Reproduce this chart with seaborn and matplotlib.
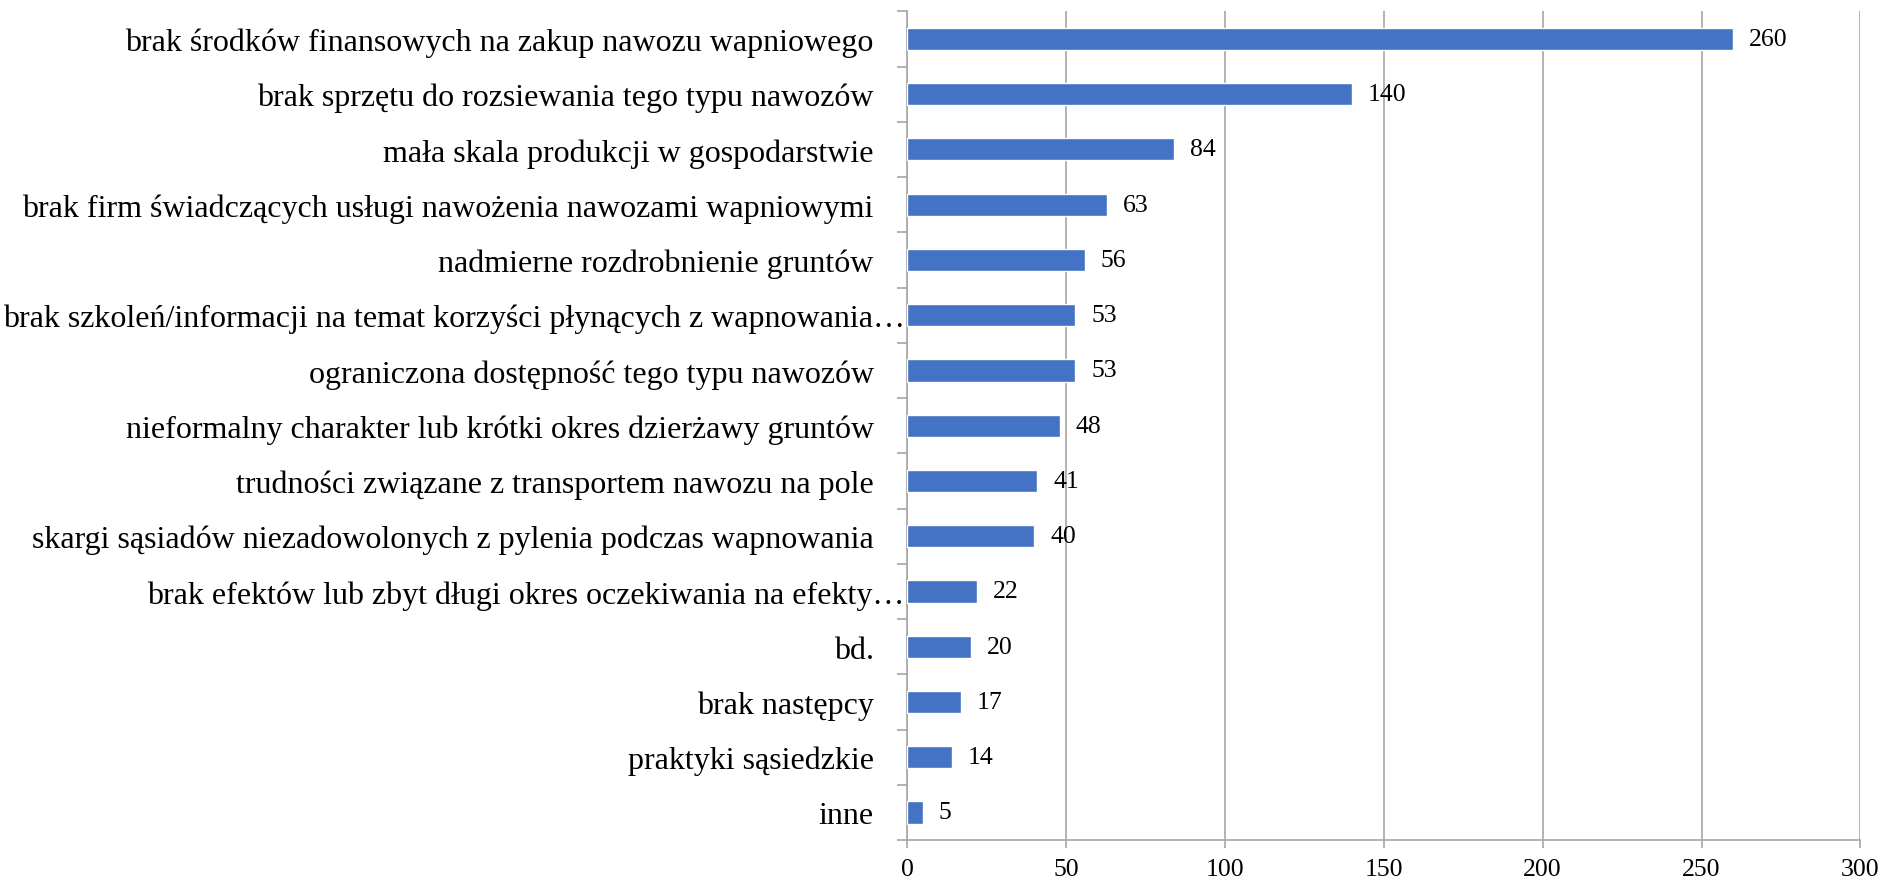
import numpy as np
import pandas as pd
import matplotlib
matplotlib.use("Agg")
import matplotlib.pyplot as plt
import matplotlib.transforms as mtransforms
import seaborn as sns

# Data
categories = [
    "brak środków finansowych na zakup nawozu wapniowego",
    "brak sprzętu do rozsiewania tego typu nawozów",
    "mała skala produkcji w gospodarstwie",
    "brak firm świadczących usługi nawożenia nawozami wapniowymi",
    "nadmierne rozdrobnienie gruntów",
    "brak szkoleń/informacji na temat korzyści płynących z wapnowania…",
    "ograniczona dostępność tego typu nawozów",
    "nieformalny charakter lub krótki okres dzierżawy gruntów",
    "trudności związane z transportem nawozu na pole",
    "skargi sąsiadów niezadowolonych z pylenia podczas wapnowania",
    "brak efektów lub zbyt długi okres oczekiwania na efekty…",
    "bd.",
    "brak następcy",
    "praktyki sąsiedzkie",
    "inne",
]
values = [260, 140, 84, 63, 56, 53, 53, 48, 41, 40, 22, 20, 17, 14, 5]
x_ticks = [0, 50, 100, 150, 200, 250, 300]

df = pd.DataFrame({"label": categories, "value": values})

sns.set_theme(style="white")
plt.rcParams["font.family"] = ["Liberation Serif", "DejaVu Serif"]
plt.rcParams["text.color"] = "black"
plt.rcParams["xtick.labelcolor"] = "black"
plt.rcParams["ytick.labelcolor"] = "black"

fig = plt.figure(figsize=(18.83, 8.78), dpi=100)
ax = fig.add_axes([0.4817, 0.042, 0.5063, 0.944])

sns.barplot(data=df, x="value", y="label", orient="h", color="#4472C4",
            width=0.4, saturation=1, ax=ax, zorder=3)

ax.set_xlim(0, 300)
ax.set_ylim(len(categories) - 0.5, -0.5)
ax.set_xticks(x_ticks)
ax.set_xlabel("")
ax.set_ylabel("")

ax.grid(axis="x", color="#a6a6a6", linewidth=1.2, zorder=0)
ax.grid(axis="y", visible=False)

for s in ["top", "right"]:
    ax.spines[s].set_visible(False)
for s in ["left", "bottom"]:
    ax.spines[s].set_color("#a6a6a6")
    ax.spines[s].set_linewidth(1.2)

ax.tick_params(axis="x", labelsize=18.5, length=6, color="#a6a6a6", width=1.2,
               direction="out", pad=7, bottom=True, labelcolor="black")
ax.tick_params(axis="y", which="major", labelsize=23, length=0, pad=24,
               labelcolor="black")
ax.set_yticks(np.arange(-0.5, len(categories) + 0.5, 1), minor=True)
ax.tick_params(axis="y", which="minor", length=7, color="#a6a6a6", width=1.2,
               left=True)

# truncated labels run up to the axis line, as in the original
shift = mtransforms.ScaledTranslation(0.31, 0, fig.dpi_scale_trans)
for lab in ax.get_yticklabels():
    if lab.get_text().endswith("…"):
        lab.set_transform(lab.get_transform() + shift)

for i, v in enumerate(values):
    ax.text(v + 5, i, str(v), va="center", ha="left", fontsize=18.5,
            color="black")

fig.savefig("out.png", dpi=100)
